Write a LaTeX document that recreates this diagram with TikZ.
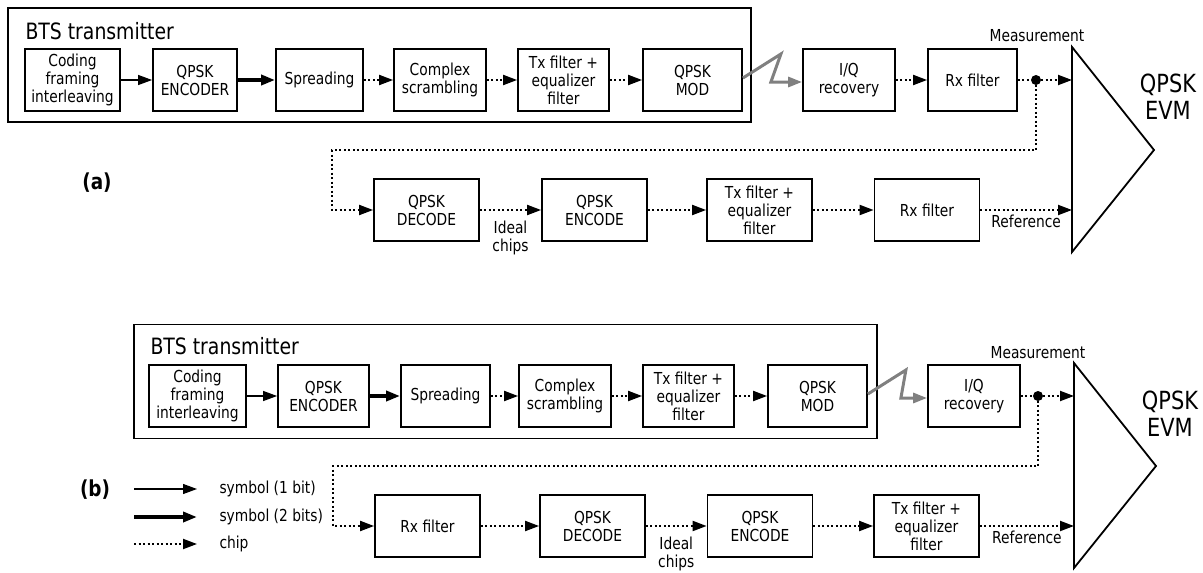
\documentclass[tikz,border=0pt]{standalone}
\usepackage{fontspec}
\setmainfont{DejaVu Sans Condensed}[FakeStretch=0.93]
\usetikzlibrary{arrows.meta,positioning}

\begin{document}
\begin{tikzpicture}[
        x=1pt, y=-1pt,
        >={Triangle[length=14pt,width=10pt]},
        block/.style={draw, line width=1.8pt, align=center, minimum width=#1, minimum height=62pt, inner sep=1pt, font=\fontsize{16.5}{18}\selectfont},
        block/.default=105pt,
        frame/.style={draw, line width=1.8pt, minimum width=743pt, minimum height=114pt},
        title/.style={anchor=west, font=\fontsize{22.5}{24}\selectfont},
        lbl/.style={font=\fontsize{16.5}{18}\selectfont, align=center},
        evm/.style={font=\fontsize{25}{27}\selectfont, align=center},
        part/.style={font=\fontsize{22}{24}\selectfont\bfseries},
        dot/.style={circle, fill, minimum size=10pt, inner sep=0pt},
        bitline/.style={->, line width=1.2pt},
        bitsline/.style={->, line width=4pt},
        chipline/.style={->, line width=2pt, dash pattern=on 2pt off 2.5pt},
        radio/.style={->, draw=gray, line width=3pt}
    ]
        \useasboundingbox (0,0) rectangle (1203,573);

        % (a) transmitter
        \node[frame] (TxA) at (379.5,65) {};
        \node[title] (TxTitleA) at (22,31) {BTS transmitter};
        \node[block=95pt] (CodA) at (72.5,80) {Coding\\framing\\interleaving};
        \node[block=84pt] (EncA) at (195,80) {QPSK\\ENCODER};
        \node[block=87pt] (SprA) at (319.5,80) {Spreading};
        \node[block=92pt] (ScrA) at (440,80) {Complex\\scrambling};
        \node[block=91pt] (TxfA) at (563.5,80) {Tx filter +\\equalizer\\filter};
        \node[block=99pt] (ModA) at (692.5,80) {QPSK\\MOD};
        \node[block=92pt] (IqA) at (849,80) {I/Q\\recovery};
        \node[block=89pt] (RxA) at (972.5,80) {Rx filter};
        \node[dot] (DotA) at (1036,80) {};
        \node[lbl] (MeasA) at (1037,36) {Measurement};

        \draw[bitline] (CodA) -- (EncA);
        \draw[bitsline] (EncA) -- (SprA);
        \draw[chipline] (SprA) -- (ScrA);
        \draw[chipline] (ScrA) -- (TxfA);
        \draw[chipline] (TxfA) -- (ModA);
        \draw[radio] ([yshift=2pt]ModA.east) -- ++(38,-24) -- ++(-10,28) -- ([yshift=-2pt]IqA.west);
        \draw[chipline] (IqA) -- (RxA);
        \draw[chipline, -] (RxA) -- (DotA);

        % (a) reference path
        \node[part] (PartA) at (97,183) {(a)};
        \node[block] (DecA) at (426.5,210) {QPSK\\DECODE};
        \node[block] (ReEncA) at (594.5,210) {QPSK\\ENCODE};
        \node[block] (ReTxA) at (759.5,210) {Tx filter +\\equalizer\\filter};
        \node[block] (ReRxA) at (927,210) {Rx filter};
        \coordinate (LoopA) at (332,150);

        \draw[chipline] (DotA.center) |- (LoopA) |- (DecA.west);
        \draw[chipline] (DecA) -- node[lbl, below=7pt] (ChipsA) {Ideal\\chips} (ReEncA);
        \draw[chipline] (ReEncA) -- (ReTxA);
        \draw[chipline] (ReTxA) -- (ReRxA);

        % (a) EVM
        \draw[line width=1.8pt] (1072,47) coordinate (EvmA) -- (1154,150) -- (1072,252) -- cycle;
        \coordinate (EvmInA) at (1072,80);
        \coordinate (EvmRefA) at (1072,210);
        \node[evm] (EvmTxtA) at (1168,97) {QPSK\\EVM};
        \draw[chipline] (DotA) -- (EvmInA);
        \draw[chipline] (ReRxA) -- node[lbl, below=1pt] (RefA) {Reference} (EvmRefA);

        % (b) transmitter
        \node[frame] (TxB) at (505.5,381.5) {};
        \node[title] (TxTitleB) at (147,346) {BTS transmitter};
        \node[block=97pt] (CodB) at (197.5,396) {Coding\\framing\\interleaving};
        \node[block=91pt] (EncB) at (323.5,396) {QPSK\\ENCODER};
        \node[block=89pt] (SprB) at (445.5,396) {Spreading};
        \node[block=92pt] (ScrB) at (565,396) {Complex\\scrambling};
        \node[block=91pt] (TxfB) at (688.5,396) {Tx filter +\\equalizer\\filter};
        \node[block=99pt] (ModB) at (817.5,396) {QPSK\\MOD};
        \node[block=92pt] (IqB) at (974,396) {I/Q\\recovery};
        \node[dot] (DotB) at (1038,396) {};
        \node[lbl] (MeasB) at (1038,353) {Measurement};

        \draw[bitline] (CodB) -- (EncB);
        \draw[bitsline] (EncB) -- (SprB);
        \draw[chipline] (SprB) -- (ScrB);
        \draw[chipline] (ScrB) -- (TxfB);
        \draw[chipline] (TxfB) -- (ModB);
        \draw[radio] ([yshift=2pt]ModB.east) -- ++(38,-24) -- ++(-5,28) -- ([yshift=-2pt]IqB.west);
        \draw[chipline, -] (IqB) -- (DotB);

        % (b) reference path
        \node[part] (PartB) at (95,490) {(b)};
        \node[block] (RxB) at (427.5,526) {Rx filter};
        \node[block] (DecB) at (592.5,526) {QPSK\\DECODE};
        \node[block] (ReEncB) at (760,526) {QPSK\\ENCODE};
        \node[block] (ReTxB) at (926.5,526) {Tx filter +\\equalizer\\filter};
        \coordinate (LoopB) at (333,466);

        \draw[chipline] (DotB.center) |- (LoopB) |- (RxB.west);
        \draw[chipline] (RxB) -- (DecB);
        \draw[chipline] (DecB) -- node[lbl, below=7pt] (ChipsB) {Ideal\\chips} (ReEncB);
        \draw[chipline] (ReEncB) -- (ReTxB);

        % (b) EVM
        \draw[line width=1.8pt] (1074,363) coordinate (EvmB) -- (1156,466) -- (1074,568) -- cycle;
        \coordinate (EvmInB) at (1074,396);
        \coordinate (EvmRefB) at (1074,526);
        \node[evm] (EvmTxtB) at (1170,414) {QPSK\\EVM};
        \draw[chipline] (DotB) -- (EvmInB);
        \draw[chipline] (ReTxB) -- node[lbl, below=1pt] (RefB) {Reference} (EvmRefB);

        % legend
        \foreach \y/\s/\t in {489/bitline/symbol (1 bit), 517/bitsline/symbol (2 bits), 544/chipline/chip} {
            \coordinate (KeyS\y) at (134,\y);
            \coordinate (KeyE\y) at (197,\y);
            \draw[\s] (KeyS\y) -- (KeyE\y);
            \node[lbl, anchor=west] (KeyT\y) at (216,\y) {\t};
        }
    \end{tikzpicture}
\end{document}
